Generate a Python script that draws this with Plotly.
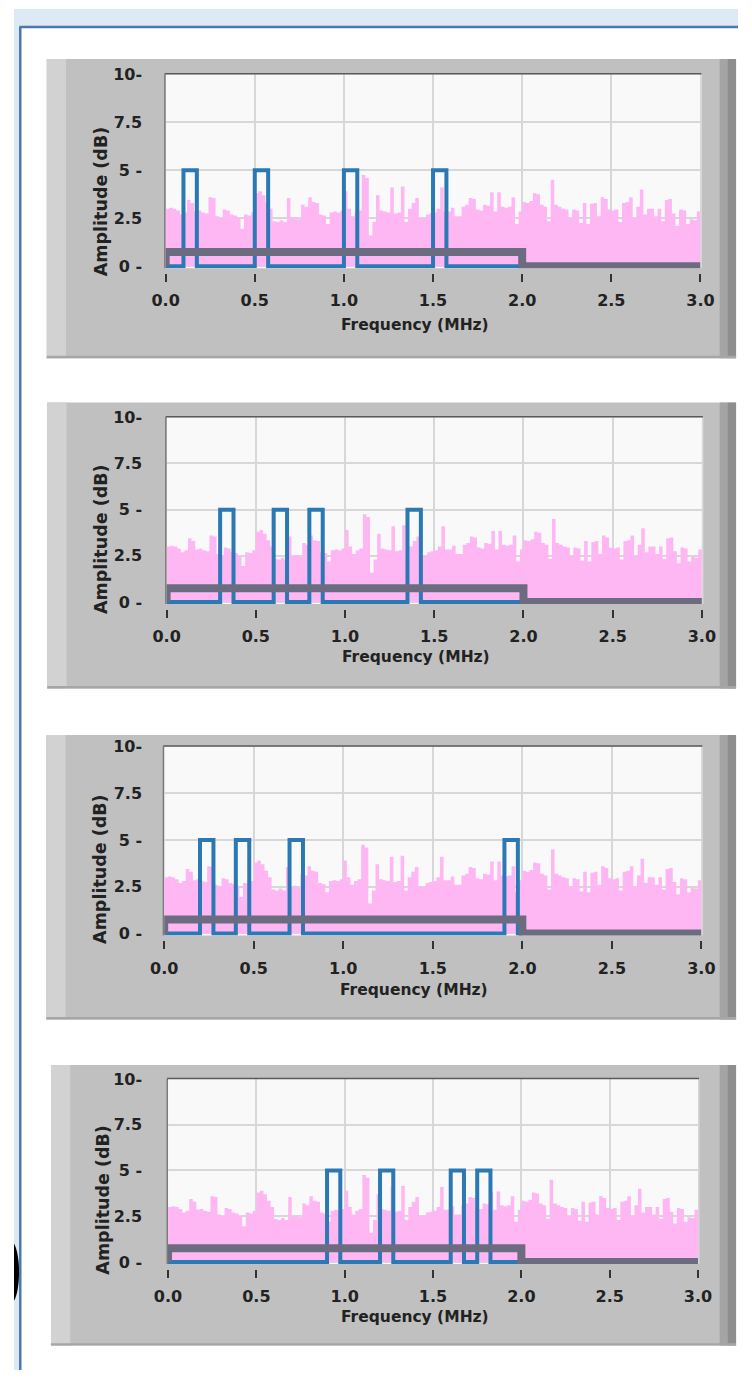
import plotly.graph_objects as go

W, H = 752, 1378

# ---------------- data ----------------
bin_width_mhz = 0.02
noise_db = [
    3.0, 3.05, 3.0, 2.9, 2.7, 2.8, 3.45, 3.3, 2.85, 2.9,
    2.8, 2.75, 3.6, 3.55, 2.6, 2.5, 2.95, 2.9, 2.7, 2.65,
    2.5, 1.95, 2.7, 2.65, 2.8, 3.8, 3.9, 3.7, 3.35, 3.0,
    2.35, 2.3, 2.4, 2.3, 3.55, 2.5, 2.55, 2.45, 3.2, 3.1,
    3.6, 3.35, 3.3, 2.7, 2.65, 2.2, 2.8, 2.85, 2.8, 2.9,
    3.9, 3.0, 2.6, 2.8, 2.9, 4.75, 4.6, 1.6, 2.3, 3.7,
    2.9, 2.85, 2.8, 4.1, 2.75, 2.8, 4.15, 2.3, 3.0, 3.3,
    3.55, 2.5, 2.5, 2.7, 2.75, 2.8, 3.0, 4.1, 2.85, 2.85,
    3.05, 2.6, 2.6, 3.1, 3.2, 3.55, 3.5, 2.95, 2.9, 3.2,
    3.15, 3.85, 2.85, 3.85, 3.1, 3.05, 3.1, 3.6, 2.2, 2.85,
    3.35, 3.3, 3.4, 3.8, 3.75, 3.2, 3.1, 2.35, 4.5, 3.2,
    3.1, 3.0, 2.95, 2.5, 2.95, 2.9, 2.25, 3.3, 2.2, 3.25,
    3.3, 2.6, 3.6, 3.5, 2.95, 2.9, 2.95, 2.3, 3.3, 3.35,
    3.6, 2.5, 3.1, 4.0, 2.7, 3.0, 3.0, 2.6, 3.0, 2.35,
    3.45, 3.5, 2.75, 2.1, 2.95, 2.9, 2.2, 2.45, 2.4, 2.85,
    2.85,
]
noise_freq = [round(i * bin_width_mhz, 2) for i in range(len(noise_db))]

pulse_width_mhz = 0.075
pulse_level_db = 5.0
pulse_starts_panel1 = [0.10, 0.50, 1.00, 1.50]
pulse_starts_panel2 = [0.30, 0.60, 0.80, 1.35]
pulse_starts_panel3 = [0.20, 0.40, 0.70, 1.90]
pulse_starts_panel4 = [0.90, 1.20, 1.60, 1.75]
pulse_end_mhz = 2.0

mask_freq = [0.0, 0.0, 2.0, 2.0, 3.0]
mask_db = [0.0, 0.75, 0.75, 0.0, 0.0]

x_tick_vals = [0.0, 0.5, 1.0, 1.5, 2.0, 2.5, 3.0]
x_tick_text = ["0.0", "0.5", "1.0", "1.5", "2.0", "2.5", "3.0"]
y_tick_vals = [0, 2.5, 5, 7.5, 10]
y_tick_text = ["0 -", "2.5", "5 -", "7.5", "10-"]

x_title = "Frequency (MHz)"
y_title = "Amplitude (dB)"

# ---------------- geometry (pixels) ----------------
panels = [
    dict(pulses=pulse_starts_panel1, left=157.5, right=713, top=66, zero=260.5,
         box=(34, 750, 50.5, 353.5), ytitle=(90, 195), xtitle=(416, 320)),
    dict(pulses=pulse_starts_panel2, left=158.5, right=714.5, top=413.3, zero=600.5,
         box=(34.5, 750, 398.3, 688), ytitle=(91, 537), xtitle=(418, 656)),
    dict(pulses=pulse_starts_panel3, left=156, right=714, top=746.7, zero=936,
         box=(33.6, 750, 735, 1023), ytitle=(90, 871), xtitle=(415.5, 993)),
    dict(pulses=pulse_starts_panel4, left=160, right=710.5, top=1083.3, zero=1268.7,
         box=(38.4, 750, 1069.3, 1353.3), ytitle=(93, 1206), xtitle=(416.5, 1324.5)),
]


def px(x):
    return x / W


def py(y):
    return 1 - y / H


FONT = "DejaVu Sans"
TXT = "#222222"
PINK = "#ffb7f3"
BLUE = "#2a78b4"
GRAYLINE = "#6c6c80"

fig = go.Figure()
shapes = []
annotations = []
layout_axes = {}

# outer window decoration
shapes.append(dict(type="rect", xref="paper", yref="paper", x0=0, x1=1, y0=py(18), y1=1,
                   fillcolor="#dde9f5", line=dict(width=0), layer="below"))
shapes.append(dict(type="rect", xref="paper", yref="paper", x0=0, x1=px(5.5), y0=0, y1=py(18),
                   fillcolor="#dde9f5", line=dict(width=0), layer="below"))
shapes.append(dict(type="line", xref="paper", yref="paper", x0=px(5.5), x1=1, y0=py(18.3), y1=py(18.3),
                   line=dict(color="#4a79b1", width=2.5), layer="above"))
shapes.append(dict(type="line", xref="paper", yref="paper", x0=px(6.5), x1=px(6.5), y0=0, y1=py(18.3),
                   line=dict(color="#4a79b1", width=2.5), layer="above"))
arc = (f"M {px(0)},{py(1250)} C {px(7)},{py(1262)} {px(7)},{py(1296)} {px(0)},{py(1308)} Z")
shapes.append(dict(type="path", xref="paper", yref="paper", path=arc,
                   fillcolor="#000000", line=dict(width=0), layer="above"))

for i, p in enumerate(panels, start=1):
    xa = "x" if i == 1 else f"x{i}"
    ya = "y" if i == 1 else f"y{i}"
    bottom = p["zero"] + 2.0
    ppd = (p["zero"] - p["top"]) / 10.0
    ymin = -(bottom - p["zero"]) / ppd

    bx0, bx1, by0, by1 = p["box"]
    # gray LabVIEW panel
    shapes.append(dict(type="rect", xref="paper", yref="paper", x0=px(bx0), x1=px(bx1),
                       y0=py(by1), y1=py(by0), fillcolor="#c0c0c0", line=dict(width=0), layer="below"))
    shapes.append(dict(type="rect", xref="paper", yref="paper", x0=px(bx0), x1=px(bx0 + 20),
                       y0=py(by1), y1=py(by0), fillcolor="#d2d2d2", line=dict(width=0), layer="below"))
    shapes.append(dict(type="rect", xref="paper", yref="paper", x0=px(733), x1=px(741),
                       y0=py(by1), y1=py(by0), fillcolor="#a4a4a4", line=dict(width=0), layer="below"))
    shapes.append(dict(type="rect", xref="paper", yref="paper", x0=px(741), x1=px(bx1),
                       y0=py(by1), y1=py(by0), fillcolor="#8e8e8e", line=dict(width=0), layer="below"))
    shapes.append(dict(type="rect", xref="paper", yref="paper", x0=px(bx0), x1=px(bx1),
                       y0=py(by1), y1=py(by1 - 2.5), fillcolor="#a6a6a6", line=dict(width=0), layer="below"))
    # plot area background
    shapes.append(dict(type="rect", xref="paper", yref="paper", x0=px(p["left"]), x1=px(p["right"]),
                       y0=py(bottom), y1=py(p["top"]), fillcolor="#f9f9f9", line=dict(width=0), layer="below"))
    # plot frame
    shapes.append(dict(type="line", xref="paper", yref="paper", x0=px(p["left"] - 1), x1=px(p["right"] + 1),
                       y0=py(p["top"] - 0.5), y1=py(p["top"] - 0.5), line=dict(color="#5a5a5a", width=1.5),
                       layer="above"))
    shapes.append(dict(type="line", xref="paper", yref="paper", x0=px(p["left"] - 0.8), x1=px(p["left"] - 0.8),
                       y0=py(bottom), y1=py(p["top"]), line=dict(color="#7a7a7a", width=1.5), layer="below"))
    shapes.append(dict(type="line", xref="paper", yref="paper", x0=px(p["right"] + 0.8), x1=px(p["right"] + 0.8),
                       y0=py(bottom), y1=py(p["top"]), line=dict(color="#d8d8d8", width=1.5), layer="below"))

    # traces
    fig.add_trace(go.Scatter(x=noise_freq, y=noise_db, mode="lines", xaxis=xa, yaxis=ya,
                             line=dict(shape="hv", width=0, color=PINK), fill="tozeroy",
                             fillcolor=PINK, showlegend=False, hoverinfo="skip"))
    bx, byv = [0.0], [0.0]
    for s in p["pulses"]:
        e = s + pulse_width_mhz
        bx += [s, s, e, e]
        byv += [0.0, pulse_level_db, pulse_level_db, 0.0]
    bx.append(pulse_end_mhz)
    byv.append(0.0)
    fig.add_trace(go.Scatter(x=bx, y=byv, mode="lines", xaxis=xa, yaxis=ya,
                             line=dict(color=BLUE, width=4), showlegend=False, hoverinfo="skip"))
    fig.add_trace(go.Scatter(x=mask_freq, y=mask_db, mode="lines", xaxis=xa, yaxis=ya,
                             line=dict(color=GRAYLINE, width=8), showlegend=False, hoverinfo="skip"))

    key = "" if i == 1 else str(i)
    layout_axes[f"xaxis{key}"] = dict(
        domain=[px(p["left"]), px(p["right"])], range=[0, 3], anchor="free",
        position=py(p["zero"] + 7), tickvals=x_tick_vals, ticktext=x_tick_text,
        ticks="outside", ticklen=8, tickwidth=1.5, tickcolor="#333333",
        ticklabelstandoff=5, showgrid=True, gridcolor="#d7d7d7", gridwidth=2,
        zeroline=False, showline=False, fixedrange=True,
        tickfont=dict(family=FONT, size=16, color=TXT, weight="bold"))
    layout_axes[f"yaxis{key}"] = dict(
        domain=[py(bottom), py(p["top"])], range=[ymin, 10], anchor="free",
        position=px(133), tickvals=y_tick_vals, ticktext=y_tick_text, ticks="",
        showgrid=True, gridcolor="#d7d7d7", gridwidth=2, zeroline=False, showline=False,
        fixedrange=True, tickfont=dict(family=FONT, size=16, color=TXT, weight="bold"))

    annotations.append(dict(xref="paper", yref="paper", x=px(p["ytitle"][0]), y=py(p["ytitle"][1]),
                            text=y_title, textangle=-90, showarrow=False, xanchor="center", yanchor="middle",
                            font=dict(family=FONT, size=17.5, color=TXT, weight="bold")))
    annotations.append(dict(xref="paper", yref="paper", x=px(p["xtitle"][0]), y=py(p["xtitle"][1]),
                            text=x_title, showarrow=False, xanchor="center", yanchor="middle",
                            font=dict(family=FONT, size=15.5, color=TXT, weight="bold")))

fig.update_layout(width=W, height=H, autosize=False, margin=dict(l=0, r=0, t=0, b=0),
                  paper_bgcolor="#ffffff", plot_bgcolor="rgba(0,0,0,0)",
                  shapes=shapes, annotations=annotations, **layout_axes)

fig.write_html("out.html", config={"responsive": False, "displayModeBar": False},
               post_script="document.body.style.margin='0';document.body.style.padding='0';"
                           "document.body.style.overflow='hidden';"
                           "document.documentElement.style.overflow='hidden';"
                           "document.documentElement.style.background='#dde9f5';"
                           "document.body.style.background='#dde9f5';")
